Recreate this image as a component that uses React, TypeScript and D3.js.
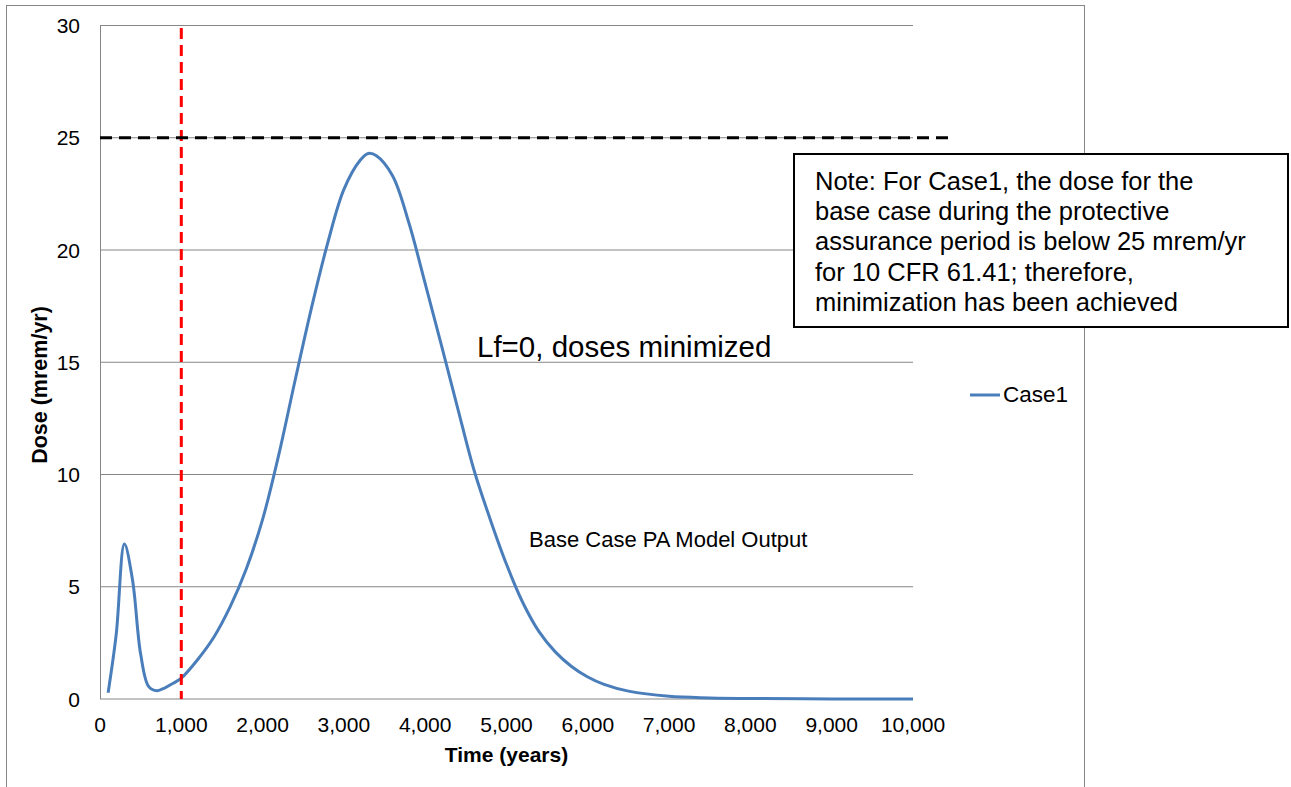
import React from "react";
import * as d3 from "d3";

const years = [100, 200, 300, 400, 500, 600, 700, 800, 900, 1000, 1200, 1400, 1600, 1800, 2000, 2200, 2400, 2600, 2800, 3000, 3200, 3300, 3400, 3600, 3800, 4000, 4200, 4400, 4600, 4800, 5000, 5200, 5400, 5600, 5800, 6000, 6200, 6500, 7000, 7500, 8000, 9000, 10000];
const case1 = [0.28, 2.9, 6.9, 5.3, 2.0, 0.55, 0.37, 0.5, 0.7, 0.93, 1.75, 2.75, 4.1, 5.8, 8.0, 10.9, 14.2, 17.4, 20.3, 22.7, 24.0, 24.3, 24.2, 23.3, 21.2, 18.5, 15.75, 12.95, 10.2, 8.0, 6.0, 4.3, 3.0, 2.1, 1.45, 0.98, 0.65, 0.35, 0.12, 0.05, 0.02, 0.005, 0.0];
const xTicks = [0, 1000, 2000, 3000, 4000, 5000, 6000, 7000, 8000, 9000, 10000];
const yTicks = [0, 5, 10, 15, 20, 25, 30];
const limitDose = 25;
const regulatoryYear = 1000;
const noteLines = [
  "Note: For Case1, the dose for the",
  "base case during the protective",
  "assurance period is below 25 mrem/yr",
  "for 10 CFR 61.41; therefore,",
  "minimization has been achieved",
];

const FONT = "'Liberation Sans', Arial, sans-serif";

export default function App() {
  const W = 1291, H = 787;
  const left = 100, right = 913, top = 25.5, bottom = 699;
  const x = d3.scaleLinear().domain([0, 10000]).range([left, right]);
  const y = d3.scaleLinear().domain([0, 30]).range([bottom, top]);
  const pts: [number, number][] = years.map((t, i) => [t, case1[i]]);
  const line = d3.line<[number, number]>().x(d => x(d[0])).y(d => y(d[1])).curve(d3.curveCatmullRom.alpha(0.5));
  const fmt = d3.format(",");
  const blue = "#4A7EBB";
  const grid = "#868686";

  return (
    <svg width={W} height={H} style={{ position: "absolute", left: 0, top: 0, background: "#fff" }} fontFamily={FONT}>
      <rect x={0} y={0} width={W} height={H} fill="#fff" />
      <rect x={6.5} y={5.5} width={1078} height={800} fill="none" stroke={grid} strokeWidth={1} />
      {yTicks.map(v => (
        <g key={v}>
          <line x1={left} x2={right} y1={y(v)} y2={y(v)} stroke={grid} strokeWidth={1} />
          <text x={80} y={y(v) + 7.5} textAnchor="end" fontSize={21} fill="#000">{v}</text>
        </g>
      ))}
      <line x1={left + 0.5} x2={left + 0.5} y1={top} y2={bottom} stroke={grid} strokeWidth={1} />
      {xTicks.map(v => (
        <text key={v} x={x(v)} y={732} textAnchor="middle" fontSize={21} fill="#000">{fmt(v)}</text>
      ))}
      <text x={(left + right) / 2} y={762} textAnchor="middle" fontSize={21} fontWeight="bold">Time (years)</text>
      <text transform={`translate(47,385) rotate(-90)`} textAnchor="middle" fontSize={21.5} fontWeight="bold">Dose (mrem/yr)</text>

      <path d={line(pts) || ""} fill="none" stroke={blue} strokeWidth={3} />

      <line x1={x(regulatoryYear)} x2={x(regulatoryYear)} y1={28} y2={bottom} stroke="#FF0000" strokeWidth={3} strokeDasharray="11,6" />
      <line x1={left} x2={948} y1={y(limitDose)} y2={y(limitDose)} stroke="#000" strokeWidth={3} strokeDasharray="12,7" />

      <text x={477} y={357} fontSize={29.5} fill="#000">Lf=0, doses minimized</text>
      <text x={529} y={547} fontSize={22} fill="#000">Base Case PA Model Output</text>

      <line x1={970} x2={1000} y1={395} y2={395} stroke={blue} strokeWidth={3} />
      <text x={1003} y={402} fontSize={22.5} fill="#000">Case1</text>

      <rect x={794} y={154} width={494} height={173} fill="#fff" stroke="#000" strokeWidth={2} />
      {noteLines.map((s, i) => (
        <text key={i} x={815} y={190 + i * 30.2} fontSize={25.5} fill="#000">{s}</text>
      ))}
    </svg>
  );
}
